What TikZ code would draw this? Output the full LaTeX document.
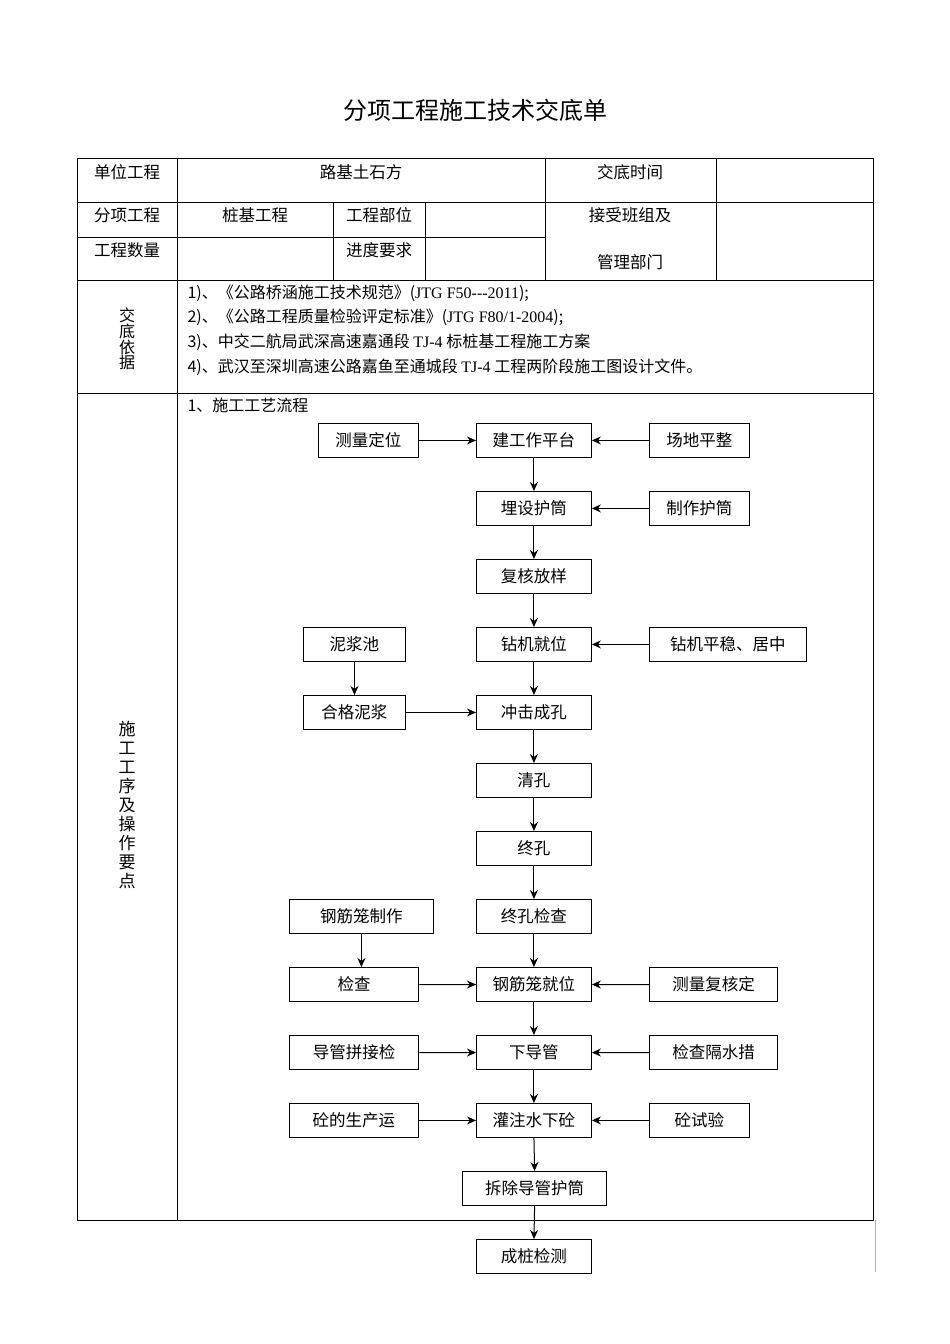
\documentclass[tikz,border=0pt]{standalone}
\usepackage{fontspec}
\setmainfont{Noto Sans CJK SC}
\newfontfamily\bodyfont{Liberation Serif}
\usetikzlibrary{arrows.meta}
\begin{document}
\begin{tikzpicture}[x=1pt,y=-1pt,
  grid/.style={line width=0.8pt},
  fbox/.style={draw,line width=0.9pt,minimum height=34pt,inner sep=2pt,font=\fontsize{16.5}{16.5}\selectfont,anchor=north west},
  arr/.style={-{Stealth[length=9pt,width=8pt]},line width=1pt},
  cell/.style={font=\fontsize{16.5}{16.5}\selectfont},
  body/.style={font=\fontsize{16}{16}\selectfont,anchor=west}]
\useasboundingbox (0,0) rectangle (950,1344);
\fill[white] (0,0) rectangle (950,1344);
\node[font=\fontsize{24}{24}\selectfont] (title) at (475,110) {分项工程施工技术交底单};
% table
\draw[grid] (77,158) rectangle (873,1220);
\draw[grid] (77,202) -- (873,202);
\draw[grid] (77,237) -- (545,237);
\draw[grid] (77,280) -- (873,280);
\draw[grid] (77,393) -- (873,393);
\draw[grid] (177,158) -- (177,1220);
\draw[grid] (545,158) -- (545,280);
\draw[grid] (716,158) -- (716,280);
\draw[grid] (333,202) -- (333,280);
\draw[grid] (425,202) -- (425,280);
\draw[gray!60,line width=0.5pt] (875,1220) -- (875,1272);
\node[cell] (c1) at (127,172) {单位工程};
\node[cell] (c2) at (361,172) {路基土石方};
\node[cell] (c3) at (630,172) {交底时间};
\node[cell] (c4) at (127,215) {分项工程};
\node[cell] (c5) at (255,215) {桩基工程};
\node[cell] (c6) at (379,215) {工程部位};
\node[cell] (c7) at (630,215) {接受班组及};
\node[cell] (c8) at (127,250) {工程数量};
\node[cell] (c9) at (379,250) {进度要求};
\node[cell] (c10) at (630,262) {管理部门};
\node[cell,align=center,font=\fontsize{16}{14}\selectfont] (v1) at (127,339) {交\\底\\依\\据};
\node[cell,align=center,font=\fontsize{17}{19}\selectfont] (v2) at (127,805) {施\\工\\工\\序\\及\\操\\作\\要\\点};
\node[body] (b1) at (184,293) {1)、《公路桥涵施工技术规范》({\bodyfont JTG F50{-}{-}{-}2011});};
\node[body] (b2) at (184,317) {2)、《公路工程质量检验评定标准》({\bodyfont JTG F80/1-2004});};
\node[body] (b3) at (184,342) {3)、中交二航局武深高速嘉通段 {\bodyfont TJ-4} 标桩基工程施工方案};
\node[body] (b4) at (184,367) {4)、武汉至深圳高速公路嘉鱼至通城段 {\bodyfont TJ-4} 工程两阶段施工图设计文件。};
\node[body] (b5) at (184,405) {1、施工工艺流程};
% flow boxes
\node[fbox,minimum width=115pt] (a1) at (476,423) {建工作平台};
\node[fbox,minimum width=100pt] (l1) at (318,423) {测量定位};
\node[fbox,minimum width=100pt] (r1) at (649,423) {场地平整};
\node[fbox,minimum width=115pt] (a2) at (476,491) {埋设护筒};
\node[fbox,minimum width=100pt] (r2) at (649,491) {制作护筒};
\node[fbox,minimum width=115pt] (a3) at (476,559) {复核放样};
\node[fbox,minimum width=115pt] (a4) at (476,627) {钻机就位};
\node[fbox,minimum width=102pt] (l4) at (303,627) {泥浆池};
\node[fbox,minimum width=157pt] (r4) at (649,627) {钻机平稳、居中};
\node[fbox,minimum width=115pt] (a5) at (476,695) {冲击成孔};
\node[fbox,minimum width=102pt] (l5) at (303,695) {合格泥浆};
\node[fbox,minimum width=115pt] (a6) at (476,763) {清孔};
\node[fbox,minimum width=115pt] (a7) at (476,831) {终孔};
\node[fbox,minimum width=115pt] (a8) at (476,899) {终孔检查};
\node[fbox,minimum width=144pt] (l8) at (289,899) {钢筋笼制作};
\node[fbox,minimum width=115pt] (a9) at (476,967) {钢筋笼就位};
\node[fbox,minimum width=129pt,line width=1.3pt] (l9) at (289,967) {检查};
\node[fbox,minimum width=128pt,line width=1.3pt] (r9) at (649,967) {测量复核定};
\node[fbox,minimum width=115pt] (a10) at (476,1035) {下导管};
\node[fbox,minimum width=129pt,line width=1.3pt] (l10) at (289,1035) {导管拼接检};
\node[fbox,minimum width=128pt,line width=1.3pt] (r10) at (649,1035) {检查隔水措};
\node[fbox,minimum width=115pt] (a11) at (476,1103) {灌注水下砼};
\node[fbox,minimum width=129pt] (l11) at (289,1103) {砼的生产运};
\node[fbox,minimum width=100pt] (r11) at (649,1103) {砼试验};
\node[fbox,minimum width=144pt,line width=1.2pt] (a12) at (462,1171) {拆除导管护筒};
\node[fbox,minimum width=115pt] (a13) at (476,1239) {成桩检测};
% arrows
\foreach \p/\q in {a1/a2,a2/a3,a3/a4,a4/a5,a5/a6,a6/a7,a7/a8,a8/a9,a9/a10,a10/a11,a11/a12,a12/a13}
  \draw[arr] (\p.south) -- (\q.north);
\draw[arr] (l4.south) -- (l5.north);
\draw[arr] (l8.south) -- (l8.south|-l9.north);
\foreach \p/\q in {l1/a1,l5/a5,l9/a9,l10/a10,l11/a11,r1/a1,r2/a2,r4/a4,r9/a9,r10/a10,r11/a11}
  \draw[arr] (\p) -- (\q);
\end{tikzpicture}
\end{document}
